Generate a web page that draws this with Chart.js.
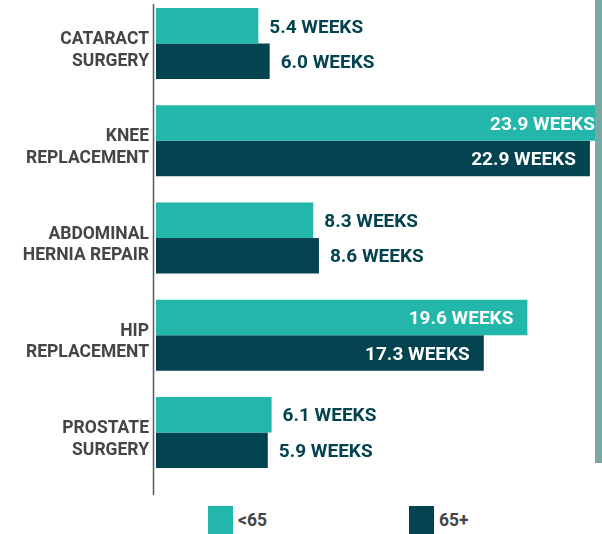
<!DOCTYPE html>
<html>
<head>
<meta charset="utf-8">
<script src="https://cdn.jsdelivr.net/npm/chart.js@4.4.1/dist/chart.umd.min.js"></script>
<style>
  body { margin: 0; background: #fff; width: 602px; height: 534px; overflow: hidden; position: relative; font-family: Roboto, sans-serif; }
  .chart-box { position: absolute; left: 0; top: -5px; width: 602px; height: 502px; }
  .side-strip { position: absolute; left: 595px; top: 0; width: 7px; height: 463px; background: #78a8a4; }
  .legend { position: absolute; top: 506px; left: 0; width: 602px; height: 28px; }
  .legend .item { position: absolute; top: 0; display: flex; align-items: center; height: 28px; }
  .legend .box { width: 25px; height: 28px; margin-right: 5px; }
  .legend span { font-weight: 700; font-size: 17.5px; color: #454545; }
</style>
</head>
<body>
<div class="chart-box"><canvas id="waitChart" width="602" height="502"></canvas></div>
<div class="side-strip"></div>
<div class="legend">
  <div class="item" style="left:208px"><div class="box" style="background:#23b6aa"></div><span>&lt;65</span></div>
  <div class="item" style="left:409px"><div class="box" style="background:#02434f"></div><span>65+</span></div>
</div>
<script>
const categories = [
  ["CATARACT", "SURGERY"],
  ["KNEE", "REPLACEMENT"],
  ["ABDOMINAL", "HERNIA REPAIR"],
  ["HIP", "REPLACEMENT"],
  ["PROSTATE", "SURGERY"]
];
const under65 = [5.4, 23.9, 8.3, 19.6, 6.1];
const over65 = [6.0, 22.9, 8.6, 17.3, 5.9];
const seriesNames = ["<65", "65+"];

const teal = "#23b6aa";
const darkTeal = "#02434f";

// draws the value labels and the long axis line
const valueLabels = {
  id: "valueLabels",
  afterDatasetsDraw(chart) {
    const ctx = chart.ctx;
    const area = chart.chartArea;
    ctx.save();
    ctx.strokeStyle = "#5a5a5a";
    ctx.lineWidth = 1.5;
    ctx.beginPath();
    ctx.moveTo(area.left - 2.5, area.top + 9);
    ctx.lineTo(area.left - 2.5, area.bottom + 14);
    ctx.stroke();

    ctx.font = "700 19px Roboto";
    ctx.textBaseline = "middle";
    chart.data.datasets.forEach((ds, i) => {
      chart.getDatasetMeta(i).data.forEach((bar, j) => {
        const v = ds.data[j];
        const text = v.toFixed(1) + " WEEKS";
        if (v > 12) {
          ctx.fillStyle = "#ffffff";
          ctx.textAlign = "right";
          ctx.fillText(text, bar.x - 14, bar.y + 2);
        } else {
          ctx.fillStyle = darkTeal;
          ctx.textAlign = "left";
          ctx.fillText(text, bar.x + 11, bar.y + 2);
        }
      });
    });
    ctx.restore();
  }
};

new Chart(document.getElementById("waitChart"), {
  type: "bar",
  data: {
    labels: categories,
    datasets: [
      { label: seriesNames[0], data: under65, backgroundColor: teal },
      { label: seriesNames[1], data: over65, backgroundColor: darkTeal }
    ]
  },
  options: {
    indexAxis: "y",
    responsive: false,
    maintainAspectRatio: false,
    animation: false,
    layout: { padding: { left: 0, right: 7, top: 0, bottom: 16 } },
    datasets: { bar: { categoryPercentage: 0.73, barPercentage: 1.0 } },
    scales: {
      x: { display: false, min: 0, max: 23.17 },
      y: {
        afterFit(scale) {
          scale.width = 156;
          scale.paddingTop = 0;
          scale.paddingBottom = 0;
        },
        grid: { display: false, drawTicks: false },
        border: { display: false },
        ticks: {
          autoSkip: false,
          padding: 7,
          labelOffset: 7,
          color: "#454545",
          font: { family: "Roboto", weight: "700", size: 17.5, lineHeight: 1.24 }
        }
      }
    },
    plugins: { legend: { display: false }, tooltip: { enabled: false } }
  },
  plugins: [valueLabels]
});
</script>
</body>
</html>
